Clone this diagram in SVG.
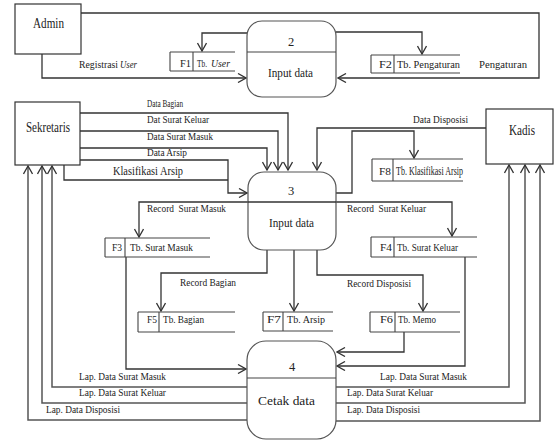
<svg xmlns="http://www.w3.org/2000/svg" width="555" height="441" viewBox="0 0 555 441" font-family="'Liberation Serif', 'DejaVu Serif', 'Times New Roman', serif">
<defs>
<style>
text{font-family:"Liberation Serif","DejaVu Serif","Times New Roman",serif}
.t{font-size:10.5px;fill:#222}
.e{font-size:14px;fill:#222}
.p{font-size:12.5px;fill:#222}
.i{font-style:italic}
.box{fill:#fff;stroke:#333;stroke-width:1.2}
.proc{fill:#fff;stroke:#555;stroke-width:1.2}
.st{fill:none;stroke:#444;stroke-width:1.1}
.c{fill:none;stroke:#333;stroke-width:1.3}
.c2{fill:none;stroke:#555;stroke-width:1.5}
</style>
<marker id="a" markerWidth="10" markerHeight="10" refX="9" refY="5" orient="auto" markerUnits="userSpaceOnUse">
<path d="M1,0.5 L9,5 L1,9.5" fill="none" stroke="#333" stroke-width="1.3"/>
</marker>
</defs>
<rect width="555" height="441" fill="#fff"/>

<g id="connectors">
<path class="c" d="M81,13 H539 V78 H338" marker-end="url(#a)"/>
<path class="c" d="M42,54 V78 H246" marker-end="url(#a)"/>
<path class="c" d="M247,33 H202 V51" marker-end="url(#a)"/>
<path class="c" d="M336,32 H422 V54" marker-end="url(#a)"/>
<path class="c" d="M80,113 H288 V170" marker-end="url(#a)"/>
<path class="c" d="M80,131 H278 V170" marker-end="url(#a)"/>
<path class="c" d="M80,148 H267 V170" marker-end="url(#a)"/>
<path class="c" d="M80,160 H228 V193 H247" marker-end="url(#a)"/>
<path class="c" d="M64,165 V180 H228"/>
<path class="c" d="M486,128 H317 V170" marker-end="url(#a)"/>
<path class="c" d="M336,193 H352 V131 H414 V158" marker-end="url(#a)"/>
<path class="c" d="M248,202 H139 V237" marker-end="url(#a)"/>
<path class="c" d="M336,202 H452 V236" marker-end="url(#a)"/>
<path class="c" d="M267,250 V273 H161 V311" marker-end="url(#a)"/>
<path class="c" d="M294,250 V311" marker-end="url(#a)"/>
<path class="c" d="M317,250 V275 H423 V311" marker-end="url(#a)"/>
<path class="c" d="M126,257 V369 H246" marker-end="url(#a)"/>
<path class="c" d="M404,332 V352 H337" marker-end="url(#a)"/>
<path class="c" d="M465,257 V366 H337" marker-end="url(#a)"/>
<path class="c2" d="M247,387 H52 V166" marker-end="url(#a)"/>
<path class="c2" d="M247,403 H42 V166" marker-end="url(#a)"/>
<path class="c2" d="M247,420 H28 V166" marker-end="url(#a)"/>
<path class="c2" d="M336,387 H509 V165" marker-end="url(#a)"/>
<path class="c2" d="M336,403 H525 V165" marker-end="url(#a)"/>
<path class="c2" d="M336,421 H540 V165" marker-end="url(#a)"/>
<text class="t" x="79" y="68" textLength="39" lengthAdjust="spacingAndGlyphs">Registrasi</text>
<text class="t i" x="120" y="68" textLength="17" lengthAdjust="spacingAndGlyphs">User</text>
<text class="t" x="479" y="68" textLength="48" lengthAdjust="spacingAndGlyphs">Pengaturan</text>
<text class="t" x="147" y="107" textLength="36" lengthAdjust="spacingAndGlyphs">Data Bagian</text>
<text class="t" x="147" y="123" textLength="62" lengthAdjust="spacingAndGlyphs">Dat Surat Keluar</text>
<text class="t" x="147" y="140" textLength="66" lengthAdjust="spacingAndGlyphs">Data Surat Masuk</text>
<text class="t" x="147" y="156" textLength="40" lengthAdjust="spacingAndGlyphs">Data Arsip</text>
<text class="t" x="113" y="175" textLength="70" lengthAdjust="spacingAndGlyphs" style="font-size:11.5px">Klasifikasi Arsip</text>
<text class="t" x="413" y="123" textLength="55" lengthAdjust="spacingAndGlyphs">Data Disposisi</text>
<text class="t" x="147" y="212" textLength="79" lengthAdjust="spacingAndGlyphs" xml:space="preserve">Record  Surat Masuk</text>
<text class="t" x="347" y="212" textLength="79" lengthAdjust="spacingAndGlyphs" xml:space="preserve">Record  Surat Keluar</text>
<text class="t" x="180" y="286" textLength="56" lengthAdjust="spacingAndGlyphs">Record Bagian</text>
<text class="t" x="347" y="287" textLength="64" lengthAdjust="spacingAndGlyphs">Record Disposisi</text>
<text class="t" x="79" y="380" textLength="87" lengthAdjust="spacingAndGlyphs">Lap. Data Surat Masuk</text>
<text class="t" x="79" y="396" textLength="87" lengthAdjust="spacingAndGlyphs">Lap. Data Surat Keluar</text>
<text class="t" x="46" y="413" textLength="74" lengthAdjust="spacingAndGlyphs">Lap. Data Disposisi</text>
<text class="t" x="380" y="380" textLength="87" lengthAdjust="spacingAndGlyphs">Lap. Data Surat Masuk</text>
<text class="t" x="347" y="396" textLength="86" lengthAdjust="spacingAndGlyphs">Lap. Data Surat Keluar</text>
<text class="t" x="347" y="413" textLength="73" lengthAdjust="spacingAndGlyphs">Lap. Data Disposisi</text>
</g>

<g id="admin">
<rect class="box" x="15" y="4" width="66" height="50"/>
<text class="e" x="33" y="28" textLength="31" lengthAdjust="spacingAndGlyphs">Admin</text>
</g>
<g id="sekretaris">
<rect class="box" x="15" y="102" width="65" height="63"/>
<text class="e" x="26" y="132" textLength="44" lengthAdjust="spacingAndGlyphs">Sekretaris</text>
</g>
<g id="kadis">
<rect class="box" x="486" y="109" width="67" height="55"/>
<text class="e" x="509" y="135" textLength="26" lengthAdjust="spacingAndGlyphs">Kadis</text>
</g>

<g id="proc2">
<rect class="proc" x="247" y="21" width="89" height="76" rx="15"/>
<line class="st" x1="247" y1="52" x2="336" y2="52"/>
<text class="p" x="291" y="46" text-anchor="middle">2</text>
<text class="p" x="268" y="77" textLength="45" lengthAdjust="spacingAndGlyphs">Input data</text>
</g>
<g id="proc3">
<rect class="proc" x="248" y="172" width="88" height="78" rx="16"/>
<line class="c" x1="248" y1="202" x2="336" y2="202"/>
<text class="p" x="291" y="195" text-anchor="middle">3</text>
<text class="p" x="269" y="227" textLength="45" lengthAdjust="spacingAndGlyphs">Input data</text>
</g>
<g id="proc4">
<rect class="proc" x="247" y="341" width="89" height="98" rx="19"/>
<line class="st" x1="247" y1="378" x2="336" y2="378"/>
<text class="p" x="292" y="371" text-anchor="middle">4</text>
<text class="p" x="258" y="405" textLength="57" lengthAdjust="spacingAndGlyphs">Cetak data</text>
</g>

<g id="f1">
<path class="st" d="M170,52 H235 M170,71 H235 M170,52 V71 M193,52 V71"/>
<text class="t" x="180" y="67" textLength="11" lengthAdjust="spacingAndGlyphs">F1</text>
<text class="t" x="197" y="67" textLength="10" lengthAdjust="spacingAndGlyphs">Tb.</text>
<text class="t i" x="211" y="67" textLength="19" lengthAdjust="spacingAndGlyphs">User</text>
</g>
<g id="f2">
<path class="st" d="M371,55 H460 M371,73 H460 M371,55 V73 M394,55 V73"/>
<text class="t" x="379" y="68" textLength="13" lengthAdjust="spacingAndGlyphs">F2</text>
<text class="t" x="397" y="68" textLength="63" lengthAdjust="spacingAndGlyphs">Tb. Pengaturan</text>
</g>
<g id="f8">
<path class="st" d="M372,159 H463 M372,181 H463 M372,159 V181 M393,159 V181"/>
<text class="t" x="379" y="175" textLength="12" lengthAdjust="spacingAndGlyphs">F8</text>
<text class="t" x="396" y="175" textLength="67" lengthAdjust="spacingAndGlyphs" style="font-size:11.5px">Tb. Klasifikasi Arsip</text>
</g>
<g id="f3">
<path class="st" d="M105,238 H210 M105,257 H210 M105,238 V257 M125,238 V257"/>
<text class="t" x="112" y="251" textLength="10" lengthAdjust="spacingAndGlyphs">F3</text>
<text class="t" x="130" y="251" textLength="63" lengthAdjust="spacingAndGlyphs">Tb. Surat Masuk</text>
</g>
<g id="f4">
<path class="st" d="M371,237 H477 M371,257 H477 M371,237 V257 M394,237 V257"/>
<text class="t" x="380" y="251" textLength="12" lengthAdjust="spacingAndGlyphs">F4</text>
<text class="t" x="397" y="251" textLength="61" lengthAdjust="spacingAndGlyphs">Tb. Surat Keluar</text>
</g>
<g id="f5">
<path class="st" d="M138,312 H235 M138,332 H235 M138,312 V332 M159,312 V332"/>
<text class="t" x="147" y="323" textLength="10" lengthAdjust="spacingAndGlyphs">F5</text>
<text class="t" x="163" y="323" textLength="41" lengthAdjust="spacingAndGlyphs">Tb. Bagian</text>
</g>
<g id="f7">
<path class="st" d="M263,312 H333 M263,331 H333 M263,312 V331 M283,312 V331"/>
<text class="t" x="267" y="323" textLength="14" lengthAdjust="spacingAndGlyphs">F7</text>
<text class="t" x="287" y="323" textLength="38" lengthAdjust="spacingAndGlyphs">Tb. Arsip</text>
</g>
<g id="f6">
<path class="st" d="M370,312 H460 M370,332 H460 M370,312 V332 M395,312 V332"/>
<text class="t" x="380" y="323" textLength="13" lengthAdjust="spacingAndGlyphs">F6</text>
<text class="t" x="398" y="323" textLength="38" lengthAdjust="spacingAndGlyphs">Tb. Memo</text>
</g>
</svg>
